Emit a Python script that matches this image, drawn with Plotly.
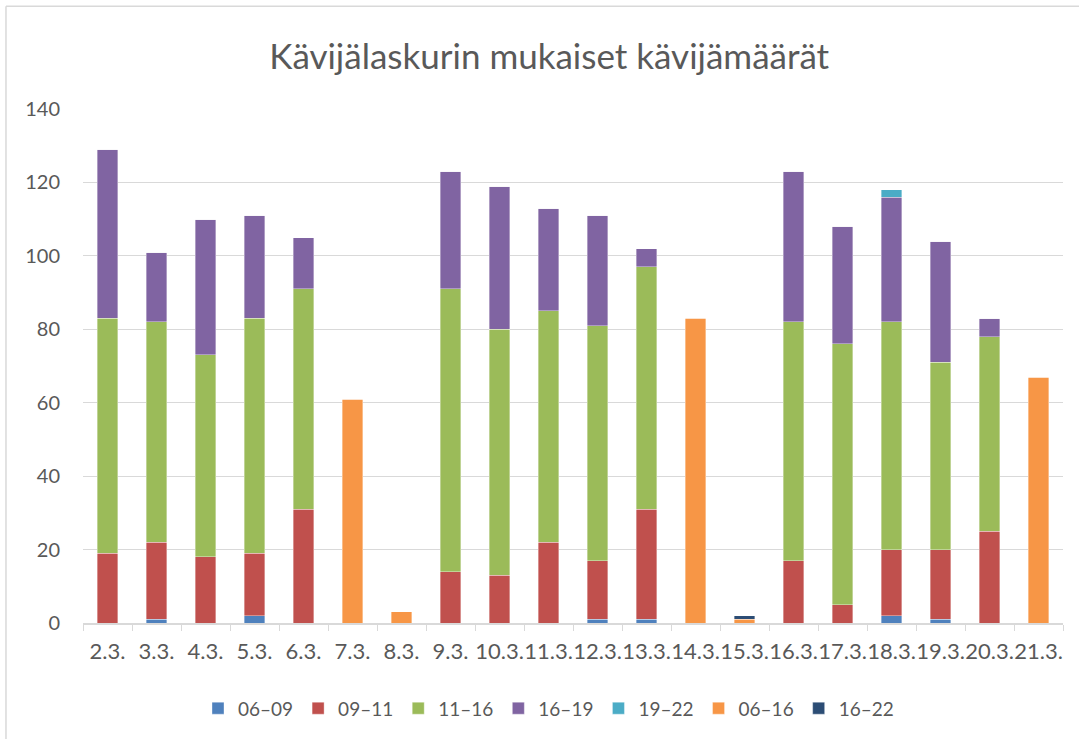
import plotly.graph_objects as go

# ── data ─────────────────────────────────────────────────────────────────────
days = ["2.3.", "3.3.", "4.3.", "5.3.", "6.3.", "7.3.", "8.3.", "9.3.", "10.3.", "11.3.",
        "12.3.", "13.3.", "14.3.", "15.3.", "16.3.", "17.3.", "18.3.", "19.3.", "20.3.", "21.3."]

h06_09 = [0, 1, 0, 2, 0, 0, 0, 0, 0, 0, 1, 1, 0, 0, 0, 0, 2, 1, 0, 0]
h09_11 = [19, 21, 18, 17, 31, 0, 0, 14, 13, 22, 16, 30, 0, 0, 17, 5, 18, 19, 25, 0]
h11_16 = [64, 60, 55, 64, 60, 0, 0, 77, 67, 63, 64, 66, 0, 0, 65, 71, 62, 51, 53, 0]
h16_19 = [46, 19, 37, 28, 14, 0, 0, 32, 39, 28, 30, 5, 0, 0, 41, 32, 34, 33, 5, 0]
h19_22 = [0, 0, 0, 0, 0, 0, 0, 0, 0, 0, 0, 0, 0, 0, 0, 0, 2, 0, 0, 0]
h06_16 = [0, 0, 0, 0, 0, 61, 3, 0, 0, 0, 0, 0, 83, 1, 0, 0, 0, 0, 0, 67]
h16_22 = [0, 0, 0, 0, 0, 0, 0, 0, 0, 0, 0, 0, 0, 1, 0, 0, 0, 0, 0, 0]

series = [
    ("06–09", h06_09, "#4F81BD"),
    ("09–11", h09_11, "#C0504D"),
    ("11–16", h11_16, "#9BBB59"),
    ("16–19", h16_19, "#8064A2"),
    ("19–22", h19_22, "#4BACC6"),
    ("06–16", h06_16, "#F79646"),
    ("16–22", h16_22, "#2C4D75"),
]

GREY = "#595959"
FONT = "Lato"

fig = go.Figure()
for name, vals, col in series:
    fig.add_trace(go.Bar(
        x=days, y=vals, name=name,
        marker=dict(color=col, line=dict(color="rgba(255,255,255,0.45)", width=0.8)),
    ))

fig.update_layout(
    barmode="stack",
    bargap=0.59,
    width=1079, height=739,
    margin=dict(l=83, r=16, t=109, b=113),
    paper_bgcolor="white",
    plot_bgcolor="white",
    font=dict(family=FONT, color=GREY, size=20),
    title=dict(text="Kävijälaskurin mukaiset kävijämäärät", x=0.509, xanchor="center",
               y=0.923, yanchor="middle", font=dict(size=35, color=GREY, family=FONT)),
    xaxis=dict(
        type="category",
        showline=True, linecolor="#D9D9D9", linewidth=1.5,
        ticks="outside", tickson="boundaries", ticklen=6, tickcolor="#D9D9D9",
        tickfont=dict(size=22, color=GREY), tickangle=0, automargin=False,
        ticklabelstandoff=8,
        showgrid=False,
    ),
    yaxis=dict(
        range=[0, 140], dtick=20,
        showgrid=True, gridcolor="#D9D9D9", gridwidth=1,
        zeroline=False, showline=False,
        tickfont=dict(size=20, color=GREY), automargin=False,
        ticklabelstandoff=22,
    ),
    legend=dict(orientation="h", x=0.475, xanchor="center", y=-0.166, yanchor="middle",
                font=dict(size=19, color=GREY), traceorder="normal",
                itemwidth=30),
    shapes=[
        dict(type="line", xref="paper", yref="paper", x0=-0.0786, x1=1.02, y0=1.2, y1=1.2,
             line=dict(color="#D9D9D9", width=1.5)),
        dict(type="line", xref="paper", yref="paper", x0=-0.0786, x1=-0.0786, y0=-0.3, y1=1.2,
             line=dict(color="#D9D9D9", width=1.5)),
    ],
)

fig.write_html("out.html", config={"displayModeBar": False},
               post_script="document.body.style.margin='0';")
